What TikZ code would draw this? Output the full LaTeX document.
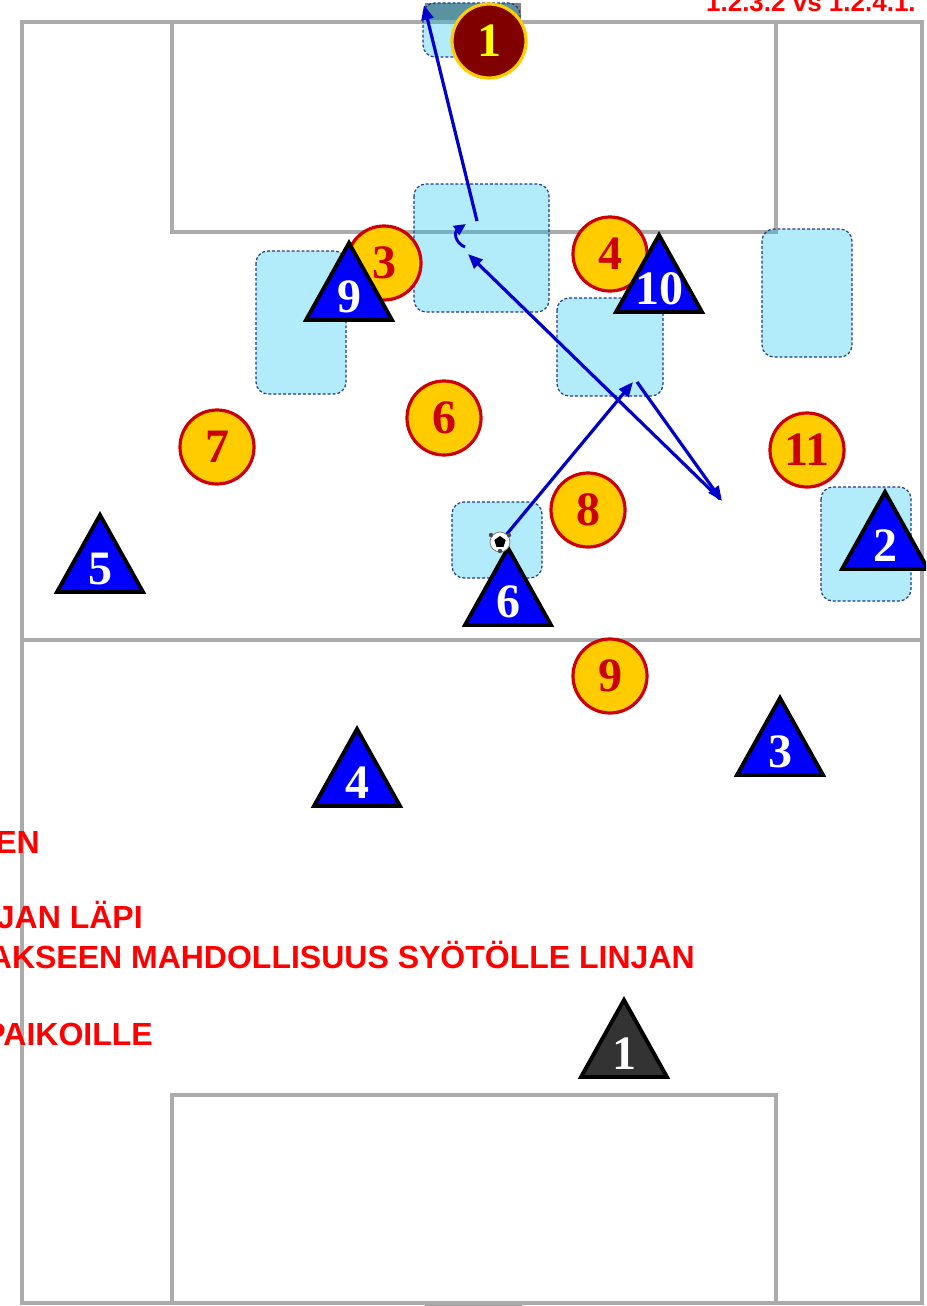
\documentclass[tikz,border=0pt]{standalone}
\usepackage{fontspec}
\setmainfont{Liberation Serif}
\newfontfamily\arialfont{Liberation Sans}
\usetikzlibrary{arrows.meta}
\definecolor{fieldgray}{HTML}{ABABAB}
\definecolor{zonefill}{HTML}{00BFEF}
\definecolor{zoneedge}{HTML}{1F3B8F}
\definecolor{arrowblue}{HTML}{0000CC}
\definecolor{triblue}{HTML}{0000FF}
\definecolor{ygold}{HTML}{FFCC00}
\definecolor{rred}{HTML}{CC0000}
\definecolor{gkred}{HTML}{800000}
\definecolor{gkyellow}{HTML}{FFFF00}
\definecolor{txtred}{HTML}{FF0000}
\definecolor{gkgray}{HTML}{333333}
\tikzset{
  fieldline/.style={draw=fieldgray, line width=3.5pt},
  zone/.style={fill=zonefill, fill opacity=0.3, draw=zoneedge, draw opacity=1, line width=0.9pt, dash pattern=on 2.2pt off 1.5pt, rounded corners=9pt},
  pass/.style={draw=arrowblue, line width=2.4pt, -{Triangle[length=11pt,width=9pt]}},
  oppo/.style={circle, fill=ygold, draw=rred, line width=2.4pt, minimum size=55.5pt, inner sep=0pt, text=rred, font=\bfseries\fontsize{36}{36}\selectfont},
  keeper/.style={circle, fill=gkred, draw=ygold, line width=2.4pt, minimum size=55.5pt, inner sep=0pt, text=gkyellow, font=\bfseries\fontsize{36}{36}\selectfont},
  trinum/.style={inner sep=0pt, text=white, font=\bfseries\fontsize{36}{36}\selectfont},
  tripath/.style={draw=black, line width=2.9pt, line join=miter},
  note/.style={anchor=base east, inner sep=0pt, text=txtred, font={\arialfont\bfseries\fontsize{24}{25}\selectfont}}
}
\newcommand\mytri[5]{%
  \filldraw[tripath, fill=#4] (#1,#2) -- ++(43,77) -- ++(-86,0) -- cycle;
  \node[trinum] (#5) at (#1,#2+54) {#3};
}
\begin{document}
\begin{tikzpicture}[x=0.75pt,y=-0.75pt]
\useasboundingbox (0,0) rectangle (926,1306);
\fill[white] (0,0) rectangle (926,1306);
\clip (0,0) rectangle (926,1306);

% goals
\fill[gray] (425,3) rectangle (521,21);
\fill[gray!80] (425,1301) rectangle (522,1310);

% field
\draw[fieldline] (22,22) rectangle (922,1303);
\draw[fieldline] (22,640) -- (922,640);
\draw[fieldline] (172,22) rectangle (776,232);
\draw[fieldline] (172,1303) -- (172,1095) -- (776,1095) -- (776,1303);

% zones
\path[zone] (423,3) rectangle (520,57);
\path[zone] (414,184) rectangle (549,312);
\path[zone] (256,251) rectangle (346,394);
\path[zone] (557,298) rectangle (663,396);
\path[zone] (762,229) rectangle (852,357);
\path[zone] (452,502) rectangle (542,578);
\path[zone] (821,487) rectangle (911,601);

% opponents
\node[keeper] (k1) at (489,41) {1};
\node[oppo] (o3) at (384,263) {3};
\node[oppo] (o4) at (610,254) {4};
\node[oppo] (o6) at (444,418) {6};
\node[oppo] (o7) at (217,447) {7};
\node[oppo] (o8) at (588,510) {8};
\node[oppo] (o11) at (807,450) {11};
\node[oppo] (o9) at (610,676) {9};

% arrow coordinates
\coordinate (p1s) at (506,535);
\coordinate (p1e) at (633,382);
\coordinate (p2s) at (637,382);
\coordinate (p2e) at (722,501);
\coordinate (p3s) at (720,499);
\coordinate (p3e) at (468,254);
\coordinate (cs) at (465,247);
\coordinate (ce) at (466,224);
\coordinate (p4s) at (477,221);
\coordinate (p4e) at (424,5);

\draw[pass] (p1s) -- (p1e);
\draw[pass] (p2s) -- (p2e);
\draw[pass] (p3s) -- (p3e);
\draw[draw=arrowblue, line width=2.2pt, -{Triangle[length=9pt,width=8pt]}] (cs) .. controls (455,243) and (454,232) .. (ce);
\draw[pass] (p4s) -- (p4e);

% own team
\mytri{349}{243}{9}{triblue}{t9}
\mytri{659}{235}{10}{triblue}{t10}
\mytri{885}{492}{2}{triblue}{t2}
\mytri{100}{515}{5}{triblue}{t5}
\mytri{508}{548}{6}{triblue}{t6}
\mytri{357}{729}{4}{triblue}{t4}
\mytri{780}{698}{3}{triblue}{t3}
\mytri{624}{1000}{1}{gkgray}{t1}

% ball
\node[circle, fill=white, draw=gray, line width=0.6pt, minimum size=15pt, inner sep=0pt] (ball) at (500,542) {};
\fill[black] (500,536) -- (505.7,540.1) -- (503.5,546.9) -- (496.5,546.9) -- (494.3,540.1) -- cycle;
\fill[black!70] (491,535) circle (2.2);
\fill[black!70] (509,535) circle (2.2);
\fill[black!70] (500,551) circle (2.2);

% texts
\node[anchor=base east, inner sep=0pt, text=txtred, font={\arialfont\bfseries\fontsize{19.5}{20}\selectfont}] (title) at (916,12) {1.2.3.2 vs 1.2.4.1.};
\node[note] (n1) at (40,853) {EN};
\node[note] (n2) at (143,928) {JAN LÄPI};
\node[note] (n3) at (695,968) {AKSEEN MAHDOLLISUUS SYÖTÖLLE LINJAN};
\node[note] (n4) at (153,1045) {PAIKOILLE};
\end{tikzpicture}
\end{document}
